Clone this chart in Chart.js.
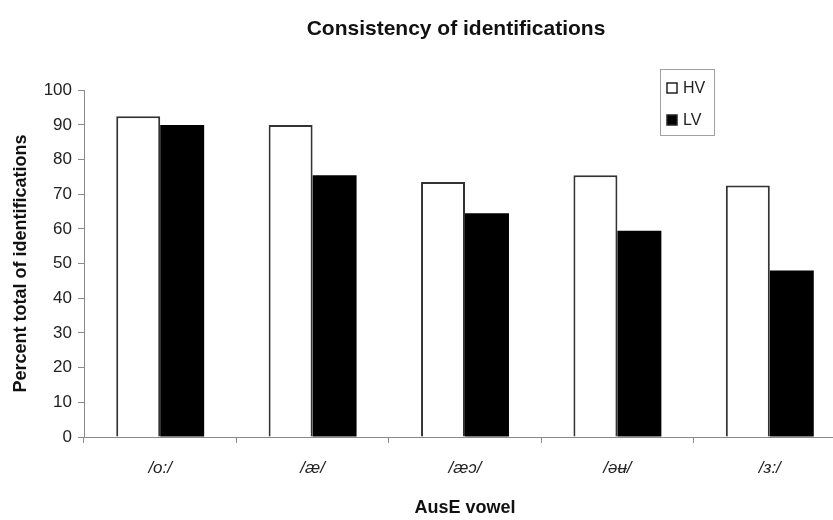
<!DOCTYPE html>
<html>
<head>
<meta charset="utf-8">
<script src="https://cdn.jsdelivr.net/npm/chart.js@4/dist/chart.umd.min.js"></script>
<style>
  html, body { margin: 0; padding: 0; background: #fff; overflow: hidden; }
  #wrap { position: relative; width: 912px; height: 520px; }
</style>
</head>
<body>
<div id="wrap"><canvas id="c"></canvas></div>
<script>
// AusE vowel categories
const vowels = ['/o:/', '/æ/', '/æɔ/', '/əʉ/', '/ɜ:/'];
// Consistency of identifications (percent), per voice condition
const hvValues = [92.5, 90, 73.5, 75.5, 72.5];
const lvValues = [90, 75.5, 64.5, 59.5, 48];
const seriesNames = ['HV', 'LV'];
const yTicks = [0, 10, 20, 30, 40, 50, 60, 70, 80, 90, 100];

const FONT = "'Liberation Sans', Arial, sans-serif";
const AXIS_GREY = '#8a8a8a';

// Boxed legend drawn in the upper right of the plot
const boxedLegend = {
  id: 'boxedLegend',
  afterDraw(chart) {
    const ctx = chart.ctx;
    const x0 = 660, y0 = 69, w = 54, h = 66;
    ctx.save();
    ctx.strokeStyle = '#a0a0a0';
    ctx.lineWidth = 1;
    ctx.strokeRect(x0 + 0.5, y0 + 0.5, w, h);
    ctx.font = '16px ' + FONT;
    ctx.textBaseline = 'middle';
    ctx.textAlign = 'left';
    chart.data.datasets.forEach((ds, i) => {
      const cy = y0 + 19 + i * 32;
      ctx.fillStyle = ds.backgroundColor;
      ctx.fillRect(667, cy - 5, 10, 10);
      ctx.strokeStyle = '#222';
      ctx.lineWidth = 1.5;
      ctx.strokeRect(667, cy - 5, 10, 10);
      ctx.fillStyle = '#222';
      ctx.fillText(ds.label, 683, cy + 1);
    });
    ctx.restore();
  }
};

new Chart(document.getElementById('c'), {
  type: 'bar',
  data: {
    labels: vowels,
    datasets: [
      {
        label: seriesNames[0],
        data: hvValues,
        backgroundColor: '#ffffff',
        borderColor: '#333333',
        borderWidth: 2,
        borderSkipped: 'bottom'
      },
      {
        label: seriesNames[1],
        data: lvValues,
        backgroundColor: '#000000',
        borderColor: '#000000',
        borderWidth: 0
      }
    ]
  },
  options: {
    responsive: true,
    maintainAspectRatio: false,
    animation: false,
    layout: { padding: 0 },
    datasets: {
      bar: { categoryPercentage: 0.577, barPercentage: 1.0 }
    },
    plugins: {
      legend: { display: false },
      tooltip: { enabled: false },
      title: {
        display: true,
        text: 'Consistency of identifications',
        color: '#111',
        font: { family: FONT, size: 21, weight: 'bold' },
        padding: { top: 17, bottom: 48 }
      }
    },
    scales: {
      x: {
        afterFit(scale) { scale.height = 83; },
        grid: {
          offset: true,
          drawOnChartArea: false,
          drawTicks: true,
          tickLength: 6,
          color: AXIS_GREY
        },
        border: { display: true, color: AXIS_GREY, width: 1 },
        ticks: {
          color: '#222',
          padding: 15,
          font: { family: FONT, size: 17, style: 'italic' }
        },
        title: {
          display: true,
          text: 'AusE vowel',
          color: '#111',
          font: { family: FONT, size: 18, weight: 'bold' },
          padding: { top: 0, bottom: 1 }
        }
      },
      y: {
        min: 0,
        max: 100,
        afterFit(scale) { scale.width = 84; },
        afterBuildTicks(scale) { scale.ticks = yTicks.map(v => ({ value: v })); },
        grid: {
          drawOnChartArea: false,
          drawTicks: true,
          tickLength: 6,
          color: AXIS_GREY
        },
        border: { display: true, color: AXIS_GREY, width: 1 },
        ticks: {
          color: '#222',
          padding: 6,
          font: { family: FONT, size: 17 }
        },
        title: {
          display: true,
          text: 'Percent total of identifications',
          color: '#111',
          font: { family: FONT, size: 18, weight: 'bold' },
          padding: { top: 10, bottom: 0 }
        }
      },
      // empty right-hand margin scale, keeps the plot area off the far edge
      yRight: {
        position: 'right',
        min: 0,
        max: 100,
        afterFit(scale) { scale.width = 66; },
        grid: { display: false, drawTicks: false },
        border: { display: false },
        ticks: { display: false }
      }
    }
  },
  plugins: [boxedLegend]
});
</script>
</body>
</html>
